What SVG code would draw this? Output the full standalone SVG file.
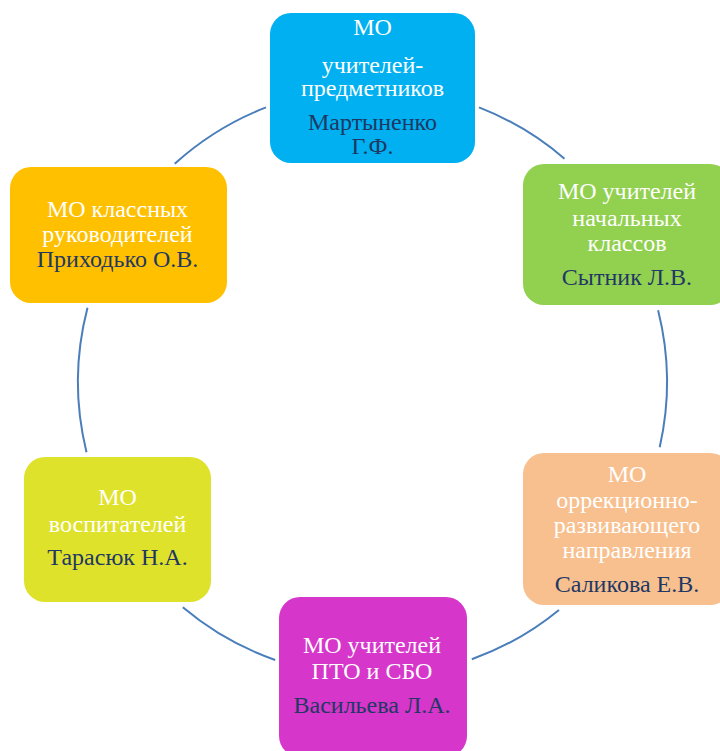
<svg xmlns="http://www.w3.org/2000/svg" width="720" height="751" viewBox="0 0 720 751">
<style>
.box{stroke:none}
.t{font-family:"Liberation Serif","Times New Roman",serif;font-size:24px;text-anchor:middle}
.w{fill:#ffffff}
.d{fill:#1f3864}
.arc{fill:none;stroke:#4a7ebb;stroke-width:2}
</style>
<rect width="720" height="751" fill="#ffffff"/>
<g id="connectors">
<path class="arc" d="M174.7 163.8 A294.5 294.5 0 0 1 266 107.4"/>
<path class="arc" d="M479 107.4 A294.5 294.5 0 0 1 564.5 158.7"/>
<path class="arc" d="M658.1 310.3 A294.5 294.5 0 0 1 659.7 447.2"/>
<path class="arc" d="M559 609.9 A294.5 294.5 0 0 1 471.8 659.3"/>
<path class="arc" d="M275.2 660 A294.5 294.5 0 0 1 182.8 607.3"/>
<path class="arc" d="M86.5 452.2 A294.5 294.5 0 0 1 87.5 307.8"/>
</g>
<g id="node-subject">
<rect class="box" x="270" y="13" width="205" height="150" rx="21" fill="#00b0f0"/>
<text class="t w" x="372.5" y="35">МО</text>
<text class="t w" x="372.5" y="73">учителей-</text>
<text class="t w" x="372.5" y="96">предметников</text>
<text class="t d" x="372.5" y="130">Мартыненко</text>
<text class="t d" x="372.5" y="154">Г.Ф.</text>
</g>
<g id="node-primary">
<rect class="box" x="523" y="164" width="208" height="141" rx="21" fill="#92d050"/>
<text class="t w" x="627" y="199">МО учителей</text>
<text class="t w" x="627" y="226">начальных</text>
<text class="t w" x="627" y="251">классов</text>
<text class="t d" x="627" y="285">Сытник Л.В.</text>
</g>
<g id="node-correction">
<rect class="box" x="523" y="453" width="208" height="152" rx="21" fill="#f8c08f"/>
<text class="t w" x="627" y="482">МО</text>
<text class="t w" x="627" y="508">оррекционно-</text>
<text class="t w" x="627" y="533">развивающего</text>
<text class="t w" x="627" y="558">направления</text>
<text class="t d" x="627" y="592">Саликова Е.В.</text>
</g>
<g id="node-pto">
<rect class="box" x="279" y="597" width="188" height="160" rx="21" fill="#d636ca"/>
<text class="t w" x="372" y="653">МО учителей</text>
<text class="t w" x="372" y="679">ПТО и СБО</text>
<text class="t d" x="372" y="713">Васильева Л.А.</text>
</g>
<g id="node-educators">
<rect class="box" x="24" y="457" width="187" height="145" rx="21" fill="#dfe22b"/>
<text class="t w" x="117.5" y="505">МО</text>
<text class="t w" x="117.5" y="532">воспитателей</text>
<text class="t d" x="117.5" y="565">Тарасюк Н.А.</text>
</g>
<g id="node-class">
<rect class="box" x="10" y="167" width="217" height="136" rx="21" fill="#ffc000"/>
<text class="t w" x="117.5" y="217">МО классных</text>
<text class="t w" x="117.5" y="242">руководителей</text>
<text class="t d" x="117.5" y="267">Приходько О.В.</text>
</g>
</svg>
